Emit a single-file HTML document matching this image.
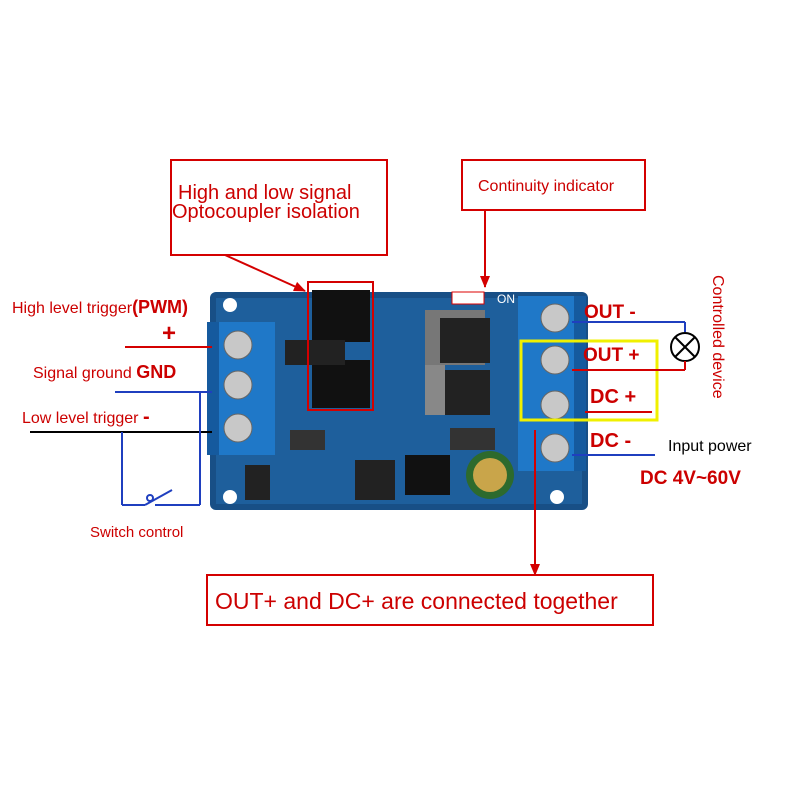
<!DOCTYPE html>
<html><head><meta charset="utf-8"><style>
body{margin:0;background:#fff;}
svg{display:block}
text{font-family:"Liberation Sans",sans-serif}
</style></head><body>
<svg width="800" height="800" viewBox="0 0 800 800">
<defs>
<marker id="ar" markerUnits="userSpaceOnUse" markerWidth="12" markerHeight="12" refX="11" refY="6" orient="auto"><path d="M0,1 L12,6 L0,11 z" fill="#d40000"/></marker>
</defs>
<!-- PCB -->
<rect x="210" y="292" width="378" height="218" rx="6" fill="#184f86"/>
<rect x="216" y="298" width="366" height="206" fill="#1e5f9c"/>
<circle cx="230" cy="305" r="7" fill="#fff"/>
<circle cx="230" cy="497" r="7" fill="#fff"/>
<circle cx="557" cy="497" r="7" fill="#fff"/>
<!-- left terminal block -->
<rect x="207" y="322" width="68" height="133" fill="#1f78c8"/>
<rect x="207" y="322" width="12" height="133" fill="#155a9e"/>
<circle cx="238" cy="345" r="14" fill="#c8c8c8" stroke="#666"/>
<circle cx="238" cy="385" r="14" fill="#c8c8c8" stroke="#666"/>
<circle cx="238" cy="428" r="14" fill="#c8c8c8" stroke="#666"/>
<!-- right terminal block -->
<rect x="518" y="296" width="68" height="175" fill="#1f78c8"/>
<rect x="574" y="296" width="12" height="175" fill="#155a9e"/>
<circle cx="555" cy="318" r="14" fill="#c8c8c8" stroke="#666"/>
<circle cx="555" cy="360" r="14" fill="#c8c8c8" stroke="#666"/>
<circle cx="555" cy="405" r="14" fill="#c8c8c8" stroke="#666"/>
<circle cx="555" cy="448" r="14" fill="#c8c8c8" stroke="#666"/>
<!-- components -->
<rect x="312" y="290" width="58" height="52" fill="#111"/>
<rect x="312" y="360" width="58" height="48" fill="#111"/>
<rect x="285" y="340" width="60" height="25" fill="#222"/>
<rect x="425" y="310" width="60" height="55" fill="#777"/>
<rect x="440" y="318" width="50" height="45" fill="#222"/>
<rect x="440" y="370" width="50" height="45" fill="#222"/>
<rect x="425" y="365" width="20" height="50" fill="#888"/>
<rect x="405" y="455" width="45" height="40" fill="#111"/>
<rect x="355" y="460" width="40" height="40" fill="#222"/>
<rect x="245" y="465" width="25" height="35" fill="#222"/>
<rect x="290" y="430" width="35" height="20" fill="#333"/>
<rect x="450" y="428" width="45" height="22" fill="#333"/>
<circle cx="490" cy="475" r="24" fill="#2d6a2d"/>
<circle cx="490" cy="475" r="17" fill="#c9a54a"/>
<rect x="452" y="292" width="32" height="12" fill="#fff" stroke="#d00"/>
<text x="497" y="303" font-size="12" fill="#fff">ON</text>
<!-- boxes -->
<rect x="171" y="160" width="216" height="95" fill="none" stroke="#d40000" stroke-width="2"/>
<text x="178" y="199" font-size="20" fill="#c00">High and low signal</text>
<text x="172" y="218" font-size="20" fill="#c00">Optocoupler isolation</text>
<rect x="462" y="160" width="183" height="50" fill="none" stroke="#d40000" stroke-width="2"/>
<text x="478" y="191" font-size="16" fill="#c00">Continuity indicator</text>
<line x1="225" y1="255" x2="305" y2="291" stroke="#d40000" stroke-width="2" marker-end="url(#ar)"/>
<line x1="485" y1="210" x2="485" y2="287" stroke="#d40000" stroke-width="2" marker-end="url(#ar)"/>
<rect x="308" y="282" width="65" height="128" fill="none" stroke="#d40000" stroke-width="2"/>
<rect x="207" y="575" width="446" height="50" fill="none" stroke="#d40000" stroke-width="2"/>
<text x="215" y="609" font-size="23" fill="#c00">OUT+ and DC+ are connected together</text>
<line x1="535" y1="430" x2="535" y2="575" stroke="#d40000" stroke-width="2" marker-end="url(#ar)"/>
<rect x="521" y="341" width="136" height="79" fill="none" stroke="#f0f000" stroke-width="3"/>
<!-- left labels -->
<text x="12" y="313" font-size="16" fill="#c00">High level trigger<tspan font-weight="bold" font-size="18">(PWM)</tspan></text>
<text x="162" y="341" font-size="24" fill="#c00" font-weight="bold">+</text>
<line x1="125" y1="347" x2="212" y2="347" stroke="#d40000" stroke-width="2"/>
<text x="33" y="378" font-size="16" fill="#c00">Signal ground <tspan font-weight="bold" font-size="18">GND</tspan></text>
<line x1="115" y1="392" x2="212" y2="392" stroke="#1f3fbf" stroke-width="2"/>
<text x="22" y="423" font-size="16" fill="#c00">Low level trigger <tspan font-weight="bold" font-size="20">-</tspan></text>
<line x1="30" y1="432" x2="212" y2="432" stroke="#000" stroke-width="2"/>
<line x1="122" y1="432" x2="122" y2="505" stroke="#1f3fbf" stroke-width="2"/>
<line x1="200" y1="392" x2="200" y2="505" stroke="#1f3fbf" stroke-width="2"/>
<line x1="122" y1="505" x2="145" y2="505" stroke="#1f3fbf" stroke-width="2"/>
<line x1="155" y1="505" x2="200" y2="505" stroke="#1f3fbf" stroke-width="2"/>
<line x1="145" y1="505" x2="172" y2="490" stroke="#1f3fbf" stroke-width="2"/>
<circle cx="150" cy="498" r="3" fill="none" stroke="#1f3fbf" stroke-width="2"/>
<text x="90" y="537" font-size="15" fill="#c00">Switch control</text>
<!-- right labels -->
<text x="584" y="318" font-size="19" fill="#c00" font-weight="bold">OUT -</text>
<line x1="572" y1="322" x2="685" y2="322" stroke="#1f3fbf" stroke-width="2"/>
<line x1="685" y1="322" x2="685" y2="332" stroke="#1f3fbf" stroke-width="2"/>
<circle cx="685" cy="347" r="14" fill="#fff" stroke="#000" stroke-width="2"/>
<line x1="675" y1="337" x2="695" y2="357" stroke="#000" stroke-width="2"/>
<line x1="695" y1="337" x2="675" y2="357" stroke="#000" stroke-width="2"/>
<text x="583" y="361" font-size="19" fill="#c00" font-weight="bold">OUT +</text>
<line x1="572" y1="370" x2="685" y2="370" stroke="#d40000" stroke-width="2"/>
<line x1="685" y1="370" x2="685" y2="361" stroke="#d40000" stroke-width="2"/>
<text x="590" y="403" font-size="20" fill="#c00" font-weight="bold">DC +</text>
<line x1="585" y1="412" x2="652" y2="412" stroke="#d40000" stroke-width="2"/>
<text x="590" y="447" font-size="20" fill="#c00" font-weight="bold">DC -</text>
<line x1="572" y1="455" x2="655" y2="455" stroke="#1f3fbf" stroke-width="2"/>
<text x="668" y="451" font-size="16" fill="#000">Input power</text>
<text x="640" y="484" font-size="19" fill="#c00" font-weight="bold">DC 4V~60V</text>
<text transform="translate(713,275) rotate(90)" font-size="16" fill="#c00">Controlled device</text>
</svg>
</body></html>
